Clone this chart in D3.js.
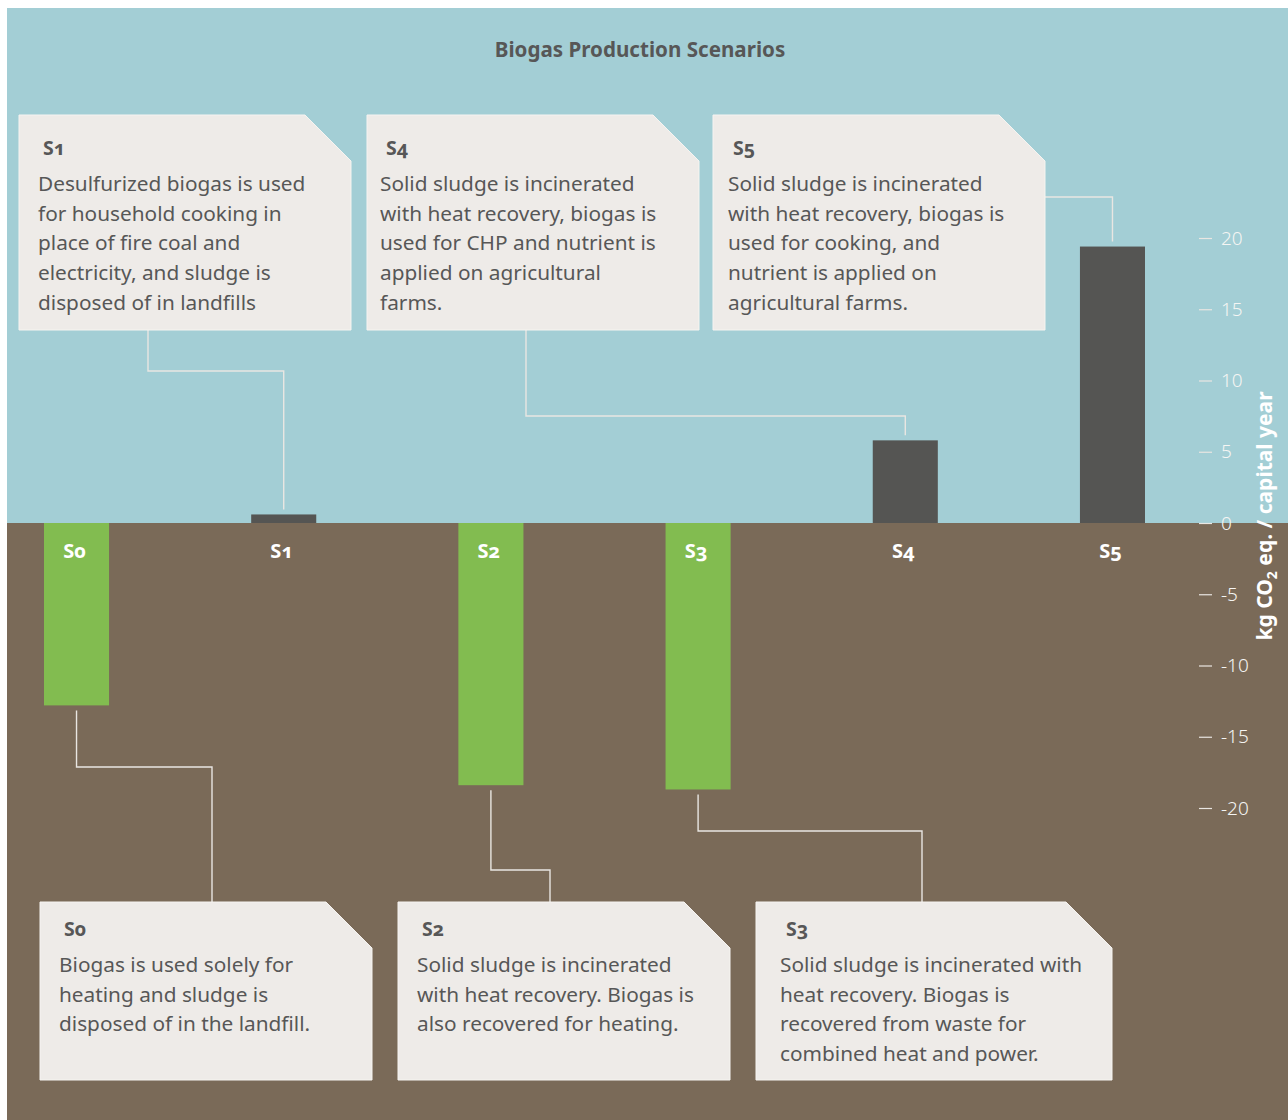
<!DOCTYPE html>
<html>
<head>
<meta charset="utf-8">
<script src="https://cdn.jsdelivr.net/npm/d3@7"></script>
<style>
  html, body { margin: 0; padding: 0; background: #ffffff; }
  svg { display: block; }
  .num { font-feature-settings: "onum" 1; font-variant-numeric: oldstyle-nums; }
</style>
</head>
<body>
<svg id="chart" width="1288" height="1120"></svg>
<script>
// Net emissions per scenario, kg CO2 eq. per capita and year
const scenarios = ["S0", "S1", "S2", "S3", "S4", "S5"];
const emissions = [-12.8, 0.6, -18.4, -18.7, 5.8, 19.4];
const tickValues = [20, 15, 10, 5, 0, -5, -10, -15, -20];
const chartTitle = "Biogas Production Scenarios";

// Scenario descriptions, one entry per line
const descriptions = {
  S0: ["Biogas is used solely for", "heating and sludge is", "disposed of in the landfill."],
  S1: ["Desulfurized biogas is used", "for household cooking in", "place of fire coal and",
       "electricity, and sludge is", "disposed of in landfills"],
  S2: ["Solid sludge is incinerated", "with heat recovery. Biogas is", "also recovered for heating."],
  S3: ["Solid sludge is incinerated with", "heat recovery. Biogas is",
       "recovered from waste for", "combined heat and power."],
  S4: ["Solid sludge is incinerated", "with heat recovery, biogas is",
       "used for CHP and nutrient is", "applied on agricultural", "farms."],
  S5: ["Solid sludge is incinerated", "with heat recovery, biogas is",
       "used for cooking, and", "nutrient is applied on", "agricultural farms."]
};

const W = 1288, H = 1120;
const FONT = "'Noto Sans', 'Open Sans', sans-serif";
const colors = {
  sky: "#a3ced5", ground: "#7a6a58", positive: "#555553", negative: "#82bc50",
  card: "#eeebe8", cardEdge: "#f6f4f1", ink: "#575757", leader: "#e9e6e2", light: "#f5f5f3"
};

const svg = d3.select("#chart");

const y = d3.scaleLinear().domain([-20, 20]).range([808, 238]);
const x = d3.scaleBand().domain(scenarios).range([44, 1145]).paddingInner(0.686).paddingOuter(0);

const zeroY = y(0);

// Sky above the zero line, ground below
svg.append("rect").attr("x", 7).attr("y", 8).attr("width", W - 7).attr("height", zeroY - 8)
  .attr("fill", colors.sky);
svg.append("rect").attr("x", 7).attr("y", zeroY).attr("width", W - 7).attr("height", H - zeroY)
  .attr("fill", colors.ground);

// Title
svg.append("text").attr("x", 640).attr("y", 57).attr("text-anchor", "middle")
  .attr("font-family", FONT).attr("font-weight", 700).attr("font-size", 20.6)
  .attr("fill", colors.ink).text(chartTitle);

const data = scenarios.map((s, i) => ({ key: s, value: emissions[i] }));

// Bars
svg.append("g").selectAll("rect").data(data).join("rect")
  .attr("x", d => x(d.key))
  .attr("width", x.bandwidth())
  .attr("y", d => y(Math.max(0, d.value)))
  .attr("height", d => Math.abs(y(d.value) - y(0)))
  .attr("fill", d => d.value < 0 ? colors.negative : colors.positive);

// Scenario labels just under the zero line
svg.append("g").selectAll("text").data(data).join("text")
  .attr("class", "num")
  .attr("x", d => x(d.key) + x.bandwidth() / 2 - 2)
  .attr("y", zeroY + 35)
  .attr("text-anchor", "middle")
  .attr("font-family", FONT).attr("font-weight", 700).attr("font-size", 20)
  .attr("fill", "#ffffff")
  .text(d => d.key);

// Value axis on the right
const axis = d3.axisRight(y)
  .tickValues(tickValues)
  .tickSizeInner(13).tickSizeOuter(0).tickPadding(9)
  .tickFormat(d => String(d));
const axisG = svg.append("g").attr("transform", "translate(1199,0)").call(axis);
axisG.select(".domain").remove();
axisG.selectAll(".tick line").attr("stroke", colors.leader).attr("stroke-width", 1.2);
axisG.selectAll(".tick text").attr("fill", colors.light)
  .attr("font-family", FONT).attr("font-size", 19).attr("font-weight", 300);

// Axis title with subscript
const axisTitle = svg.append("text")
  .attr("transform", "translate(1272,516) rotate(-90)")
  .attr("text-anchor", "middle")
  .attr("font-family", FONT).attr("font-weight", 700).attr("font-size", 21)
  .attr("fill", "#ffffff");
axisTitle.append("tspan").text("kg CO");
axisTitle.append("tspan").attr("dy", 5).attr("font-size", 14).text("2");
axisTitle.append("tspan").attr("dy", -5).text(" eq. / capital year");

// Callout cards and leader lines
const callouts = [
  { key: "S1", x0: 19,  y0: 115, w: 332, h: 215, side: "top",    from: [148, 330], elbow: 371, padT: 24, padB: 19 },
  { key: "S4", x0: 367, y0: 115, w: 332, h: 215, side: "top",    from: [526, 330], elbow: 416, padT: 19, padB: 13 },
  { key: "S5", x0: 713, y0: 115, w: 332, h: 215, side: "right",  from: [1045, 197], padT: 20, padB: 15 },
  { key: "S0", x0: 40,  y0: 902, w: 332, h: 178, side: "bottom", from: [212, 902], elbow: 767, padT: 24, padB: 19 },
  { key: "S2", x0: 398, y0: 902, w: 332, h: 178, side: "bottom", from: [550, 902], elbow: 870, padT: 24, padB: 19 },
  { key: "S3", x0: 756, y0: 902, w: 356, h: 178, side: "bottom", from: [922, 902], elbow: 831, padT: 30, padB: 24 }
];
const valueOf = k => emissions[scenarios.indexOf(k)];
const cut = 46, gap = 5;

const leaders = svg.append("g").attr("fill", "none").attr("stroke", colors.leader).attr("stroke-width", 1.4);
callouts.forEach(c => {
  const bx = x(c.key) + x.bandwidth() / 2;
  const v = valueOf(c.key);
  const barEnd = v >= 0 ? y(v) - gap : y(v) + gap;
  const p = d3.path();
  p.moveTo(c.from[0], c.from[1]);
  if (c.side === "right") {
    p.lineTo(bx, c.from[1]);
    p.lineTo(bx, barEnd);
  } else {
    p.lineTo(c.from[0], c.elbow);
    p.lineTo(bx, c.elbow);
    p.lineTo(bx, barEnd);
  }
  leaders.append("path").attr("d", p.toString());
});

const cards = svg.append("g").selectAll("g").data(callouts).join("g")
  .attr("transform", c => `translate(${c.x0},${c.y0})`);
cards.append("path")
  .attr("d", c => `M0,0 H${c.w - cut} L${c.w},${cut} V${c.h} H0 Z`)
  .attr("fill", colors.card).attr("stroke", colors.cardEdge).attr("stroke-width", 1);
cards.append("text").attr("class", "num")
  .attr("x", c => c.padT).attr("y", c => c.side === "bottom" ? 34 : 40)
  .attr("font-family", FONT).attr("font-weight", 700).attr("font-size", 19.5)
  .attr("fill", colors.ink).text(c => c.key);
cards.each(function (c) {
  const t = d3.select(this).append("text")
    .attr("font-family", FONT).attr("font-size", 20.8).attr("fill", colors.ink);
  const first = c.side === "bottom" ? 70 : 76;
  descriptions[c.key].forEach((line, i) => {
    t.append("tspan").attr("x", c.padB).attr("y", first + i * 29.7).text(line);
  });
});
</script>
</body>
</html>
